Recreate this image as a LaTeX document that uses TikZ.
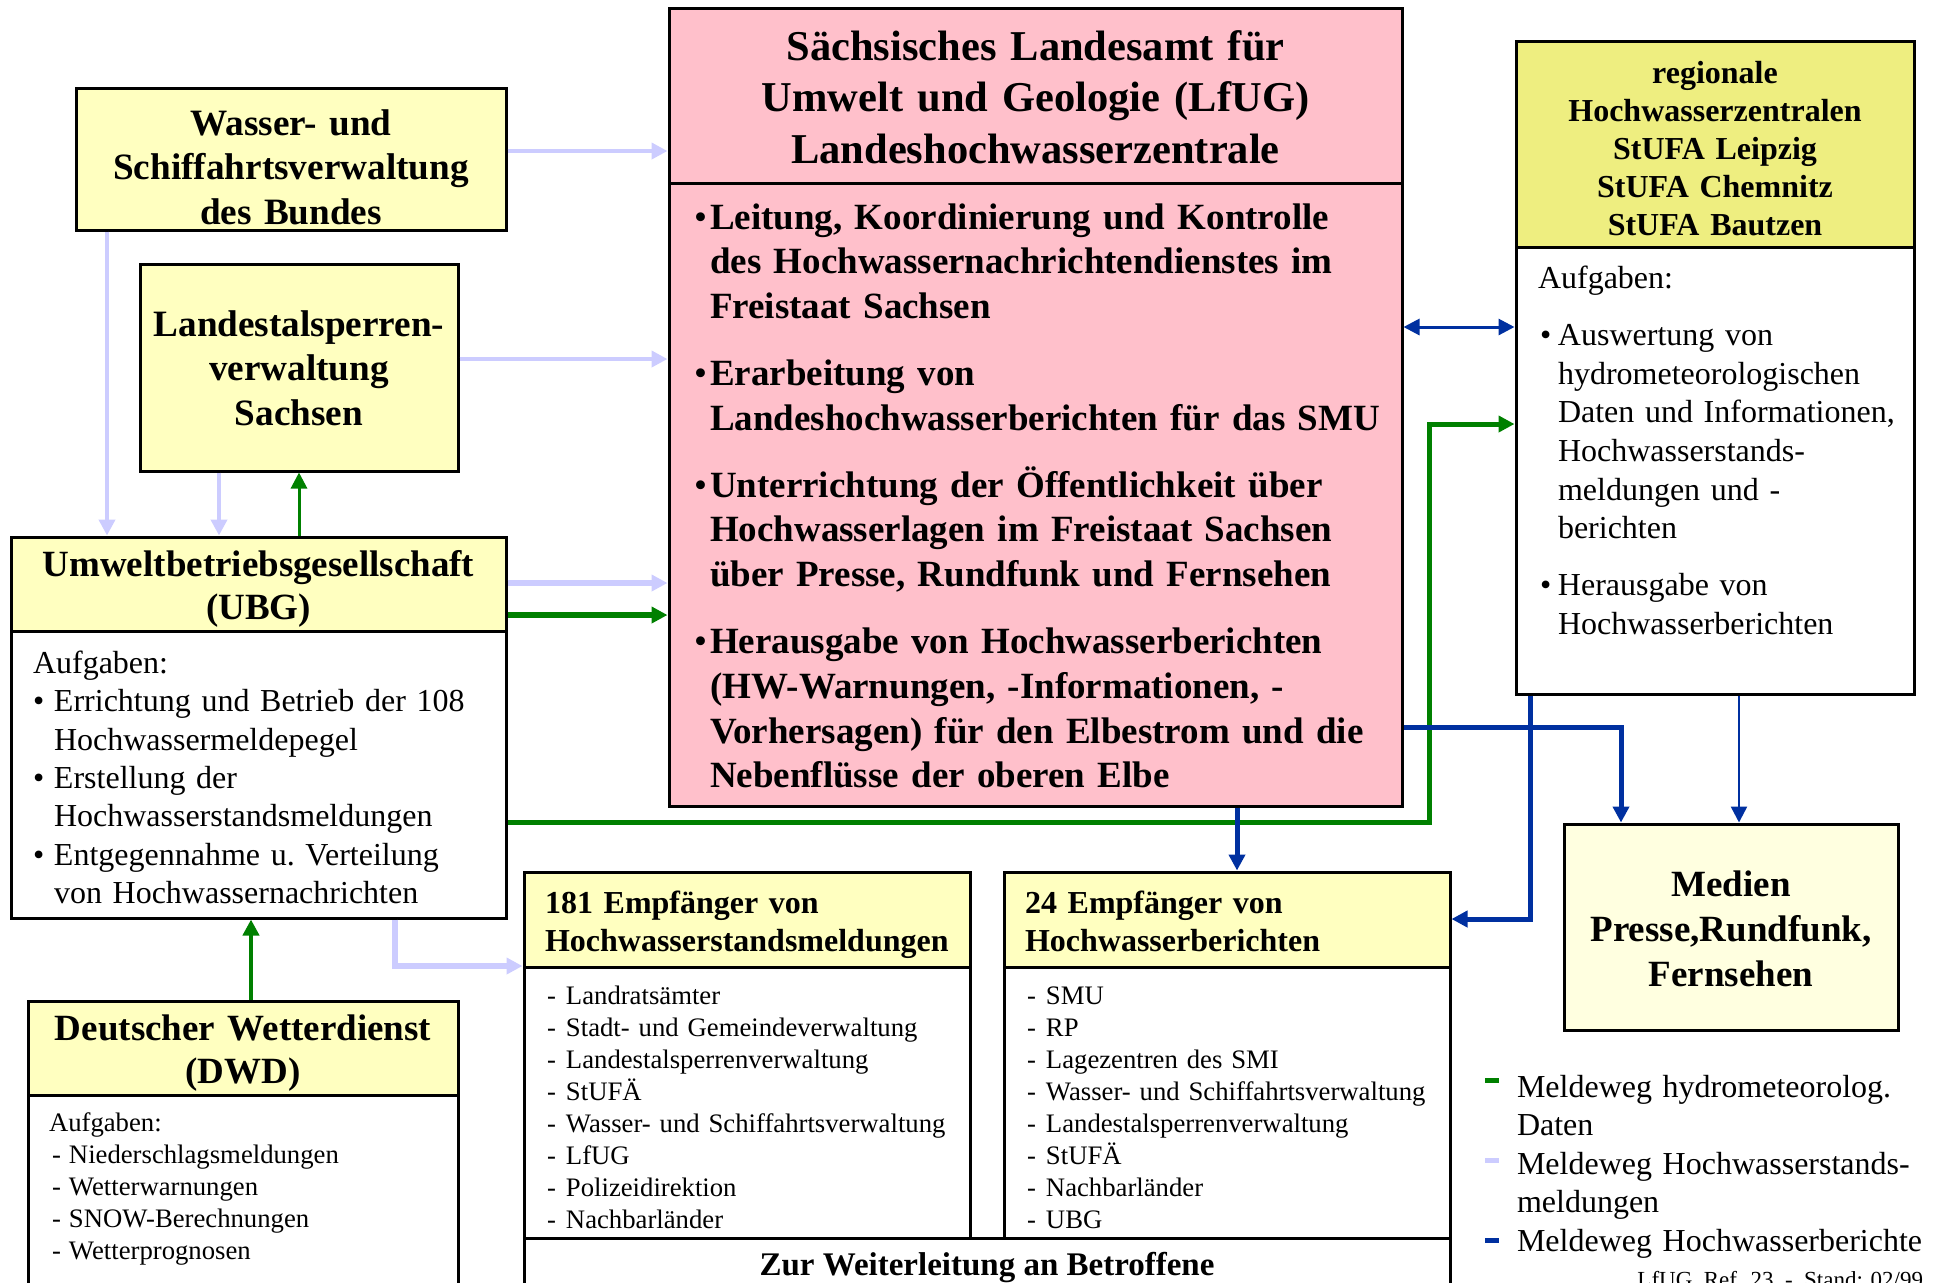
\documentclass[tikz,border=0pt]{standalone}
\usepackage{fontspec}
\setmainfont{Liberation Serif}
\usetikzlibrary{arrows.meta,fit}
\newlength\upx \setlength\upx{0.5pt}
\definecolor{lyel}{RGB}{255,255,192}
\definecolor{khaki}{RGB}{238,238,128}
\definecolor{medy}{RGB}{255,255,224}
\definecolor{pinkc}{RGB}{255,192,203}
\definecolor{lilac}{RGB}{204,204,255}
\definecolor{grn}{RGB}{0,128,0}
\definecolor{blu}{RGB}{0,48,160}
\newcommand\bitem[3]{\hangindent=#1\upx\hangafter=1\noindent\makebox[#1\upx][l]{\hspace{#2\upx}\mdseries\textbullet}#3\par}
\newcommand\ditem[3]{\makebox[#1\upx][l]{\hspace{#2\upx}-}#3}
\begin{document}
\begin{tikzpicture}[x=0.5pt,y=-0.5pt,
  bx/.style={draw=black, line width=1.5pt, inner sep=0pt},
  txt/.style={inner sep=0pt, outer sep=0pt},
  tip/.style={-{Triangle[length=8pt,width=8pt]}},
  lil/.style={draw=lilac, tip},
  grl/.style={draw=grn, tip},
  bll/.style={draw=blu, tip}]
\useasboundingbox (0,0) rectangle (1934,1282);
% boxes
\node[bx, fill=lyel, fit={(76,88)(506,230)}] (wasser) {};
\node[bx, fill=lyel, fit={(140,264)(458,471)}] (landest) {};
\node[bx, fill=lyel, fit={(11,537)(506,631)}] (ubgH) {};
\node[bx, fill=white, fit={(11,631)(506,918)}] (ubgB) {};
\node[bx, fill=lyel, fit={(28,1001)(458,1095)}] (dwdH) {};
\node[bx, fill=white, fit={(28,1095)(458,1300)}] (dwdB) {};
\node[bx, fill=pinkc, fit={(669,8)(1402,183)}] (lfugH) {};
\node[bx, fill=pinkc, fit={(669,183)(1402,806)}] (lfugB) {};
\node[bx, fill=khaki, fit={(1516,41)(1914,247)}] (regH) {};
\node[bx, fill=white, fit={(1516,247)(1914,694)}] (regB) {};
\node[bx, fill=lyel, fit={(524,872)(970,967)}] (eaH) {};
\node[bx, fill=white, fit={(524,967)(970,1238)}] (eaB) {};
\node[bx, fill=lyel, fit={(1004,872)(1450,967)}] (ebH) {};
\node[bx, fill=white, fit={(1004,967)(1450,1238)}] (ebB) {};
\node[bx, fill=white, fit={(524,1238)(1450,1300)}] (weiter) {};
\node[bx, fill=medy, fit={(1564,824)(1898,1030)}] (medien) {};
% connectors
\draw[lil, line width=2pt] (wasser.east |- 0,151) -- (lfugH.west |- 0,151);
\draw[lil, line width=2pt] (landest.east |- 0,359) -- (lfugB.west |- 0,359);
\draw[lil, line width=2pt] (wasser.south -| 107,0) -- (ubgH.north -| 107,0);
\draw[lil, line width=2pt] (landest.south -| 219,0) -- (ubgH.north -| 219,0);
\draw[grl, line width=1.5pt] (ubgH.north -| 299,0) -- (landest.south -| 299,0);
\draw[lil, line width=3pt] (ubgH.east |- 0,583) -- (lfugB.west |- 0,583);
\draw[grl, line width=3pt] (ubgH.east |- 0,615) -- (lfugB.west |- 0,615);
\draw[grl, line width=2.5pt] (ubgB.east |- 0,822) -| (1429,424) -- (regB.west |- 0,424);
\draw[lil, line width=3pt] (ubgB.south -| 395,0) |- (eaB.west |- 0,966);
\draw[grl, line width=2.25pt] (dwdH.north -| 251,0) -- (ubgB.south -| 251,0);
\draw[draw=blu, line width=1.5pt, {Triangle[length=8pt,width=8pt]}-{Triangle[length=8pt,width=8pt]}] (lfugB.east |- 0,327) -- (regB.west |- 0,327);
\draw[bll, line width=2.5pt] (lfugB.south -| 1237,0) -- (ebH.north -| 1237,0);
\draw[bll, line width=2.5pt] (lfugB.east |- 0,727) -| (medien.north -| 1621,0);
\draw[bll, line width=2.5pt] (regB.south -| 1530,0) |- (ebH.east |- 0,919);
\draw[bll, line width=1.25pt] (regB.south -| 1739,0) -- (medien.north -| 1739,0);
% texts
\node[txt, anchor=base, text width=420\upx, align=center, font=\fontsize{18.6pt}{22.2pt}\selectfont\bfseries] (wasserT) at (291,135.5) {Wasser- und\\Schiffahrtsverwaltung\\des Bundes};
\node[txt, anchor=base, text width=310\upx, align=center, font=\fontsize{18.6pt}{22.3pt}\selectfont\bfseries] (landestT) at (299,336) {Landestalsperren-\\verwaltung\\Sachsen};
\node[txt, anchor=base, text width=720\upx, align=center, font=\fontsize{21.25pt}{25.75pt}\selectfont\bfseries] (lfugT) at (1035.5,60) {Sächsisches Landesamt für\\Umwelt und Geologie (LfUG)\\Landeshochwasserzentrale};
\node[txt, anchor=base west, text width=700\upx, align=left, font=\fontsize{18.5pt}{22.4pt}\selectfont\bfseries] (lfugL) at (694,229) {\setlength\parskip{11pt}%
\bitem{16}{0}{Leitung, Koordinierung und Kontrolle\newline des Hochwassernachrichtendienstes im\newline Freistaat Sachsen}%
\bitem{16}{0}{Erarbeitung von\newline Landeshochwasserberichten für das SMU}%
\bitem{16}{0}{Unterrichtung der Öffentlichkeit über\newline Hochwasserlagen im Freistaat Sachsen\newline über Presse, Rundfunk und Fernsehen}%
\bitem{16}{0}{Herausgabe von Hochwasserberichten\newline (HW-Warnungen, -Informationen, -\newline Vorhersagen) für den Elbestrom und die\newline Nebenflüsse der oberen Elbe}};
\node[txt, anchor=base, text width=390\upx, align=center, font=\fontsize{16pt}{19pt}\selectfont\bfseries] (regT) at (1715,83) {regionale\\Hochwasserzentralen\\StUFA Leipzig\\StUFA Chemnitz\\StUFA Bautzen};
\node[txt, anchor=base west, text width=370\upx, align=left, font=\fontsize{16pt}{19.3pt}\selectfont] (regL) at (1538,288.5) {\setlength\parskip{9.25pt}%
\noindent Aufgaben:\par
\bitem{20}{2}{Auswertung von\newline hydrometeorologischen\newline Daten und Informationen,\newline Hochwasserstands-\newline meldungen und -\newline berichten}%
\bitem{20}{2}{Herausgabe von\newline Hochwasserberichten}};
\node[txt, anchor=base, text width=490\upx, align=center, font=\fontsize{18.5pt}{21.75pt}\selectfont\bfseries] (ubgT) at (258.5,576) {Umweltbetriebsgesellschaft\\(UBG)};
\node[txt, anchor=base west, text width=470\upx, align=left, font=\fontsize{16pt}{19.17pt}\selectfont] (ubgL) at (33,673.5) {\noindent Aufgaben:\par
\bitem{21}{0}{Errichtung und Betrieb der 108\newline Hochwassermeldepegel}%
\bitem{21}{0}{Erstellung der\newline Hochwasserstandsmeldungen}%
\bitem{21}{0}{Entgegennahme u.\ Verteilung\newline von Hochwassernachrichten}};
\node[txt, anchor=base, text width=420\upx, align=center, font=\fontsize{18.5pt}{21.75pt}\selectfont\bfseries] (dwdT) at (243,1040) {Deutscher Wetterdienst\\(DWD)};
\node[txt, anchor=base west, text width=400\upx, align=left, font=\fontsize{13.35pt}{16.05pt}\selectfont] (dwdL) at (49,1131.5) {Aufgaben:\\
\ditem{20}{3}{Niederschlagsmeldungen}\\
\ditem{20}{3}{Wetterwarnungen}\\
\ditem{20}{3}{SNOW-Berechnungen}\\
\ditem{20}{3}{Wetterprognosen}};
\node[txt, anchor=base west, text width=430\upx, align=left, font=\fontsize{16pt}{19pt}\selectfont\bfseries] (eaT) at (545,913) {181 Empfänger von\\Hochwasserstandsmeldungen};
\node[txt, anchor=base west, text width=430\upx, align=left, font=\fontsize{13.35pt}{16pt}\selectfont] (eaL) at (545,1004) {\ditem{21}{2}{Landratsämter}\\
\ditem{21}{2}{Stadt- und Gemeindeverwaltung}\\
\ditem{21}{2}{Landestalsperrenverwaltung}\\
\ditem{21}{2}{StUFÄ}\\
\ditem{21}{2}{Wasser- und Schiffahrtsverwaltung}\\
\ditem{21}{2}{LfUG}\\
\ditem{21}{2}{Polizeidirektion}\\
\ditem{21}{2}{Nachbarländer}};
\node[txt, anchor=base west, text width=430\upx, align=left, font=\fontsize{16pt}{19pt}\selectfont\bfseries] (ebT) at (1025,913) {24 Empfänger von\\Hochwasserberichten};
\node[txt, anchor=base west, text width=430\upx, align=left, font=\fontsize{13.35pt}{16pt}\selectfont] (ebL) at (1025,1004) {\ditem{21}{2}{SMU}\\
\ditem{21}{2}{RP}\\
\ditem{21}{2}{Lagezentren des SMI}\\
\ditem{21}{2}{Wasser- und Schiffahrtsverwaltung}\\
\ditem{21}{2}{Landestalsperrenverwaltung}\\
\ditem{21}{2}{StUFÄ}\\
\ditem{21}{2}{Nachbarländer}\\
\ditem{21}{2}{UBG}};
\node[txt, anchor=base, font=\fontsize{16.5pt}{19pt}\selectfont\bfseries] (weiterT) at (987,1275) {Zur Weiterleitung an Betroffene};
\node[txt, anchor=base, text width=320\upx, align=center, font=\fontsize{18.5pt}{22.5pt}\selectfont\bfseries] (medienT) at (1731,896) {Medien\\Presse,Rundfunk,\\Fernsehen};
% legend
\node[txt, fill=grn, minimum width=14\upx, minimum height=5\upx] (sw1) at (1492,1080) {};
\node[txt, fill=lilac, minimum width=14\upx, minimum height=5\upx] (sw2) at (1492,1160) {};
\node[txt, fill=blu, minimum width=14\upx, minimum height=5\upx] (sw3) at (1492,1240) {};
\node[txt, anchor=base west, text width=420\upx, align=left, font=\fontsize{16pt}{19.25pt}\selectfont] (lg1) at (1517,1097) {Meldeweg hydrometeorolog.\\Daten};
\node[txt, anchor=base west, text width=420\upx, align=left, font=\fontsize{16pt}{19.25pt}\selectfont] (lg2) at (1517,1174) {Meldeweg Hochwasserstands-\\meldungen};
\node[txt, anchor=base west, text width=420\upx, align=left, font=\fontsize{16pt}{19.25pt}\selectfont] (lg3) at (1517,1251) {Meldeweg Hochwasserberichte};
\node[txt, anchor=base east, font=\fontsize{11.5pt}{14pt}\selectfont] (foot) at (1923,1287) {LfUG, Ref. 23 \ - \ Stand: 02/99};
\end{tikzpicture}
\end{document}
